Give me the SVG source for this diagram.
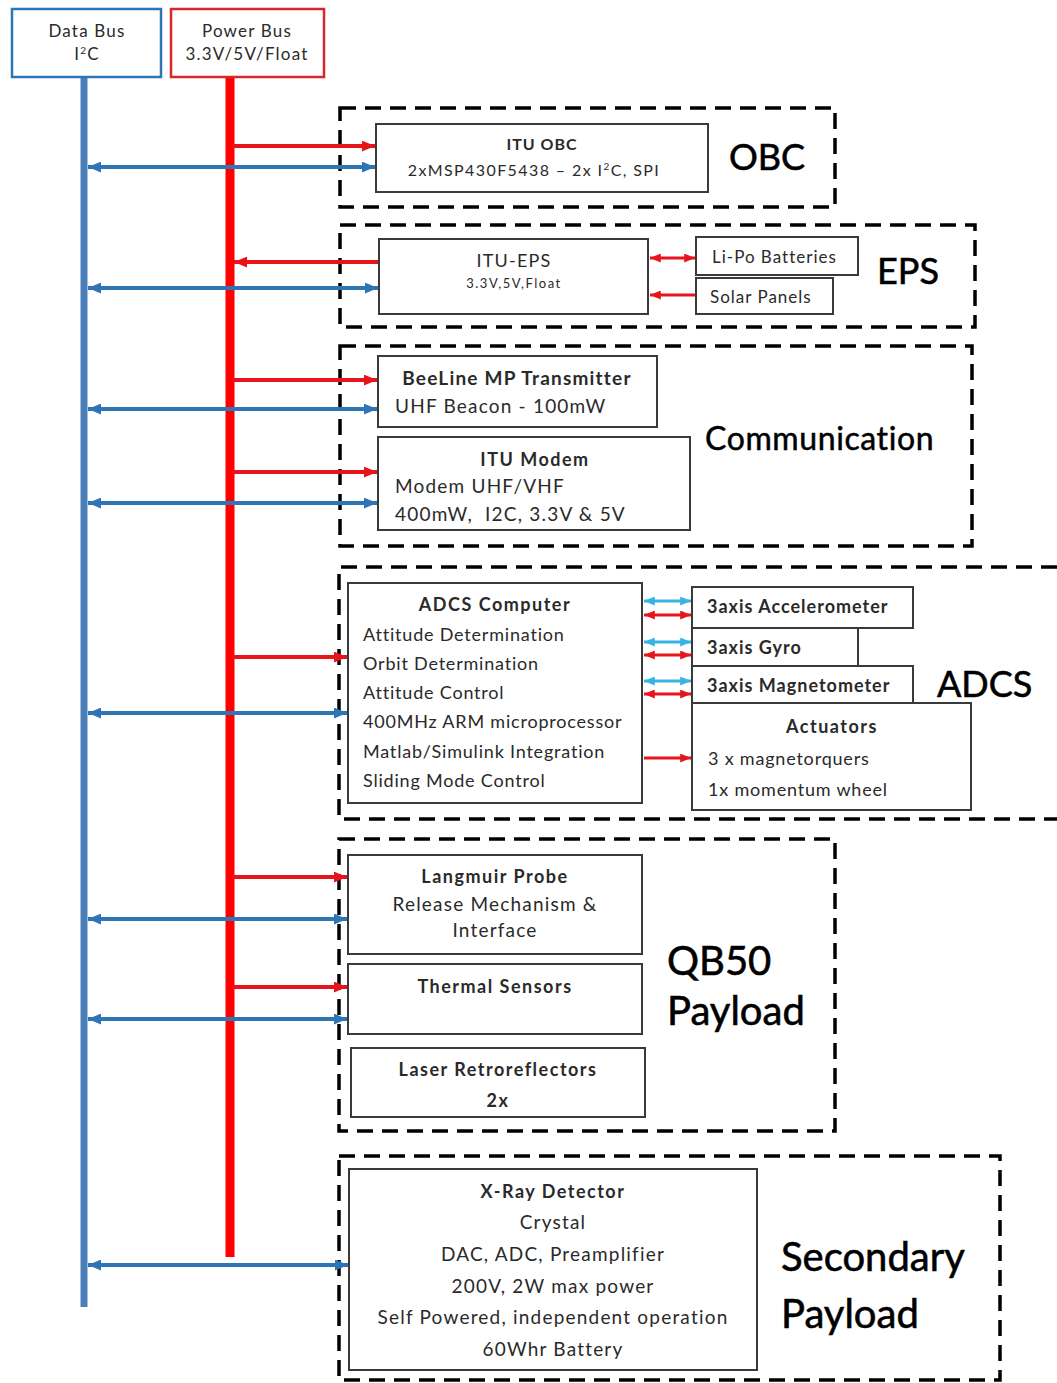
<svg xmlns="http://www.w3.org/2000/svg" width="1057" height="1383" viewBox="0 0 1057 1383">
<defs>
<marker id="ar" viewBox="0 0 12 10" refX="12" refY="5" markerWidth="13" markerHeight="11" markerUnits="userSpaceOnUse" orient="auto-start-reverse"><path d="M0,0 L12,5 L0,10 z" fill="#e8141c"/></marker>
<marker id="ab" viewBox="0 0 12 10" refX="12" refY="5" markerWidth="13" markerHeight="11" markerUnits="userSpaceOnUse" orient="auto-start-reverse"><path d="M0,0 L12,5 L0,10 z" fill="#2e75b6"/></marker>
<marker id="ac" viewBox="0 0 12 10" refX="12" refY="5" markerWidth="11" markerHeight="9" markerUnits="userSpaceOnUse" orient="auto-start-reverse"><path d="M0,0 L12,5 L0,10 z" fill="#36b4e6"/></marker>
<marker id="ar2" viewBox="0 0 12 10" refX="12" refY="5" markerWidth="11" markerHeight="9" markerUnits="userSpaceOnUse" orient="auto-start-reverse"><path d="M0,0 L12,5 L0,10 z" fill="#e8141c"/></marker>
</defs>
<style>
text{font-family:Lato,"Open Sans","Liberation Sans",sans-serif;fill:#2a2a2a;}
.t{font-size:18px;letter-spacing:0.8px;}
.tb{font-size:18px;font-weight:bold;letter-spacing:1.5px;}
.tb1{font-size:18px;font-weight:bold;letter-spacing:1px;}
.t19{font-size:19px;letter-spacing:1.2px;}
.big{font-size:36px;fill:#000;stroke:#000;stroke-width:0.6px;}
.big40{font-size:40px;fill:#000;stroke:#000;stroke-width:0.6px;}
.box{fill:#fff;stroke:#3a3a3a;stroke-width:2;}
.grp{fill:none;stroke:#000;stroke-width:3.5;stroke-dasharray:16 9;}
.r{stroke:#e8141c;stroke-width:4;fill:none;}
.b{stroke:#2e75b6;stroke-width:4;fill:none;}
.c{stroke:#36b4e6;stroke-width:3;fill:none;}
.r2{stroke:#e8141c;stroke-width:3;fill:none;}
.m{text-anchor:middle;}
</style>
<rect width="1057" height="1383" fill="#fff"/>

<g id="groups">
<rect class="grp" x="340" y="108" width="495" height="99"/>
<rect class="grp" x="340" y="225" width="635" height="102"/>
<rect class="grp" x="340" y="346" width="632" height="200"/>
<path class="grp" d="M1057,567 H339 V819 H1057"/>
<rect class="grp" x="339" y="839" width="496" height="292"/>
<rect class="grp" x="339" y="1156" width="661" height="224"/>
</g>

<g id="connectors">
<line x1="84" y1="77" x2="84" y2="1307" stroke="#4a7ebb" stroke-width="7"/>
<line x1="230" y1="77" x2="230" y2="1257" stroke="#ff0000" stroke-width="9"/>
<line class="r" x1="232" y1="146" x2="375" y2="146" marker-end="url(#ar)"/>
<line class="b" x1="88" y1="167" x2="375" y2="167" marker-start="url(#ab)" marker-end="url(#ab)"/>
<line class="r" x1="378" y1="262" x2="234" y2="262" marker-end="url(#ar)"/>
<line class="b" x1="88" y1="288" x2="378" y2="288" marker-start="url(#ab)" marker-end="url(#ab)"/>
<line class="r2" x1="650" y1="258" x2="695" y2="258" marker-start="url(#ar2)" marker-end="url(#ar2)"/>
<line class="r2" x1="695" y1="295" x2="650" y2="295" marker-end="url(#ar2)"/>
<line class="r" x1="232" y1="380" x2="377" y2="380" marker-end="url(#ar)"/>
<line class="b" x1="88" y1="409" x2="377" y2="409" marker-start="url(#ab)" marker-end="url(#ab)"/>
<line class="r" x1="232" y1="472" x2="377" y2="472" marker-end="url(#ar)"/>
<line class="b" x1="88" y1="503" x2="377" y2="503" marker-start="url(#ab)" marker-end="url(#ab)"/>
<line class="r" x1="232" y1="657" x2="347" y2="657" marker-end="url(#ar)"/>
<line class="b" x1="88" y1="713" x2="347" y2="713" marker-start="url(#ab)" marker-end="url(#ab)"/>
<line class="c" x1="644" y1="601" x2="691" y2="601" marker-start="url(#ac)" marker-end="url(#ac)"/>
<line class="r2" x1="644" y1="615" x2="691" y2="615" marker-start="url(#ar2)" marker-end="url(#ar2)"/>
<line class="c" x1="644" y1="642" x2="691" y2="642" marker-start="url(#ac)" marker-end="url(#ac)"/>
<line class="r2" x1="644" y1="655" x2="691" y2="655" marker-start="url(#ar2)" marker-end="url(#ar2)"/>
<line class="c" x1="644" y1="681" x2="691" y2="681" marker-start="url(#ac)" marker-end="url(#ac)"/>
<line class="r2" x1="644" y1="694" x2="691" y2="694" marker-start="url(#ar2)" marker-end="url(#ar2)"/>
<line class="r2" x1="644" y1="758" x2="691" y2="758" marker-end="url(#ar2)"/>
<line class="r" x1="232" y1="877" x2="347" y2="877" marker-end="url(#ar)"/>
<line class="b" x1="88" y1="919" x2="347" y2="919" marker-start="url(#ab)" marker-end="url(#ab)"/>
<line class="r" x1="232" y1="987" x2="347" y2="987" marker-end="url(#ar)"/>
<line class="b" x1="88" y1="1019" x2="347" y2="1019" marker-start="url(#ab)" marker-end="url(#ab)"/>
<line class="b" x1="88" y1="1265" x2="348" y2="1265" marker-start="url(#ab)" marker-end="url(#ab)"/>
</g>

<g id="data-bus">
<rect x="12" y="9" width="149" height="68" fill="#fff" stroke="#2e75b6" stroke-width="2.5"/>
<text class="m" x="87" y="37" style="font-size:17px;letter-spacing:1.2px">Data Bus</text>
<text class="m" x="87" y="60" style="font-size:17px;letter-spacing:1.2px">I<tspan dy="-6" font-size="10">2</tspan><tspan dy="6">C</tspan></text>
</g>
<g id="power-bus">
<rect x="171" y="9" width="153" height="68" fill="#fff" stroke="#d9262e" stroke-width="2.5"/>
<text class="m" x="247" y="37" style="font-size:17px;letter-spacing:1.2px">Power Bus</text>
<text class="m" x="247" y="60" style="font-size:17px;letter-spacing:1.2px">3.3V/5V/Float</text>
</g>

<g id="obc">
<rect class="box" x="376" y="124" width="332" height="68"/>
<text class="m" x="542" y="150" style="font-size:16px;font-weight:bold;letter-spacing:1px">ITU OBC</text>
<text class="m" x="534" y="176" style="font-size:16px;letter-spacing:1.4px">2xMSP430F5438 – 2x I<tspan dy="-6" font-size="10">2</tspan><tspan dy="6">C, SPI</tspan></text>
<text class="big" x="729" y="170">OBC</text>
</g>

<g id="eps">
<rect class="box" x="379" y="239" width="269" height="75"/>
<text class="m" x="514" y="267" style="font-size:18px;letter-spacing:1.2px">ITU-EPS</text>
<text class="m" x="514" y="288" style="font-size:13px;letter-spacing:1.5px">3.3V,5V,Float</text>
<rect class="box" x="696" y="237" width="162" height="38"/>
<text x="712" y="263" style="font-size:17px;letter-spacing:1px">Li-Po Batteries</text>
<rect class="box" x="696" y="278" width="137" height="36"/>
<text x="710" y="303" style="font-size:17px;letter-spacing:1px">Solar Panels</text>
<text class="big" x="877" y="284">EPS</text>
</g>

<g id="communication">
<rect class="box" x="378" y="356" width="279" height="71"/>
<text class="m" x="517" y="385" style="font-size:19px;font-weight:bold;letter-spacing:1.2px">BeeLine MP Transmitter</text>
<text class="t19" x="395" y="413">UHF Beacon - 100mW</text>
<rect class="box" x="378" y="437" width="312" height="93"/>
<text class="m" x="535" y="466" style="font-size:18px;font-weight:bold;letter-spacing:1.5px">ITU Modem</text>
<text class="t19" x="395" y="493">Modem UHF/VHF</text>
<text class="t19" x="395" y="521" xml:space="preserve">400mW,  I2C, 3.3V &amp; 5V</text>
<text x="705" y="450" style="font-size:32px;letter-spacing:0.6px;fill:#000;stroke:#000;stroke-width:0.5px">Communication</text>
</g>

<g id="adcs">
<rect class="box" x="348" y="583" width="294" height="220"/>
<text class="tb m" x="495" y="611">ADCS Computer</text>
<text class="t" x="363" y="641">Attitude Determination</text>
<text class="t" x="363" y="670">Orbit Determination</text>
<text class="t" x="363" y="699">Attitude Control</text>
<text class="t" x="363" y="728">400MHz ARM microprocessor</text>
<text class="t" x="363" y="758">Matlab/Simulink Integration</text>
<text class="t" x="363" y="787">Sliding Mode Control</text>
<rect class="box" x="692" y="587" width="221" height="41"/>
<text class="tb1" x="707" y="613">3axis Accelerometer</text>
<rect class="box" x="692" y="628" width="166" height="38"/>
<text class="tb1" x="707" y="654">3axis Gyro</text>
<rect class="box" x="692" y="666" width="221" height="37"/>
<text class="tb1" x="707" y="692">3axis Magnetometer</text>
<rect class="box" x="692" y="703" width="279" height="107"/>
<text class="tb m" x="832" y="733">Actuators</text>
<text class="t" x="708" y="765">3 x magnetorquers</text>
<text class="t" x="708" y="796">1x momentum wheel</text>
<text class="big" x="937" y="697">ADCS</text>
</g>

<g id="qb50">
<rect class="box" x="348" y="855" width="294" height="99"/>
<text class="tb m" x="495" y="883">Langmuir Probe</text>
<text class="t19 m" x="495" y="911">Release Mechanism &amp;</text>
<text class="t19 m" x="495" y="937">Interface</text>
<rect class="box" x="348" y="964" width="294" height="70"/>
<text class="tb m" x="495" y="993">Thermal Sensors</text>
<rect class="box" x="351" y="1048" width="294" height="69"/>
<text class="tb m" x="498" y="1076">Laser Retroreflectors</text>
<text class="tb m" x="498" y="1107">2x</text>
<text class="big40" x="667" y="975">QB50</text>
<text class="big40" x="667" y="1025">Payload</text>
</g>

<g id="secondary">
<rect class="box" x="349" y="1169" width="408" height="201"/>
<text class="tb m" x="553" y="1198">X-Ray Detector</text>
<text class="t19 m" x="553" y="1229">Crystal</text>
<text class="t19 m" x="553" y="1261">DAC, ADC, Preamplifier</text>
<text class="t19 m" x="553" y="1293">200V, 2W max power</text>
<text class="t19 m" x="553" y="1324">Self Powered, independent operation</text>
<text class="t19 m" x="553" y="1356">60Whr Battery</text>
<text class="big40" x="781" y="1271">Secondary</text>
<text class="big40" x="781" y="1328">Payload</text>
</g>
</svg>
